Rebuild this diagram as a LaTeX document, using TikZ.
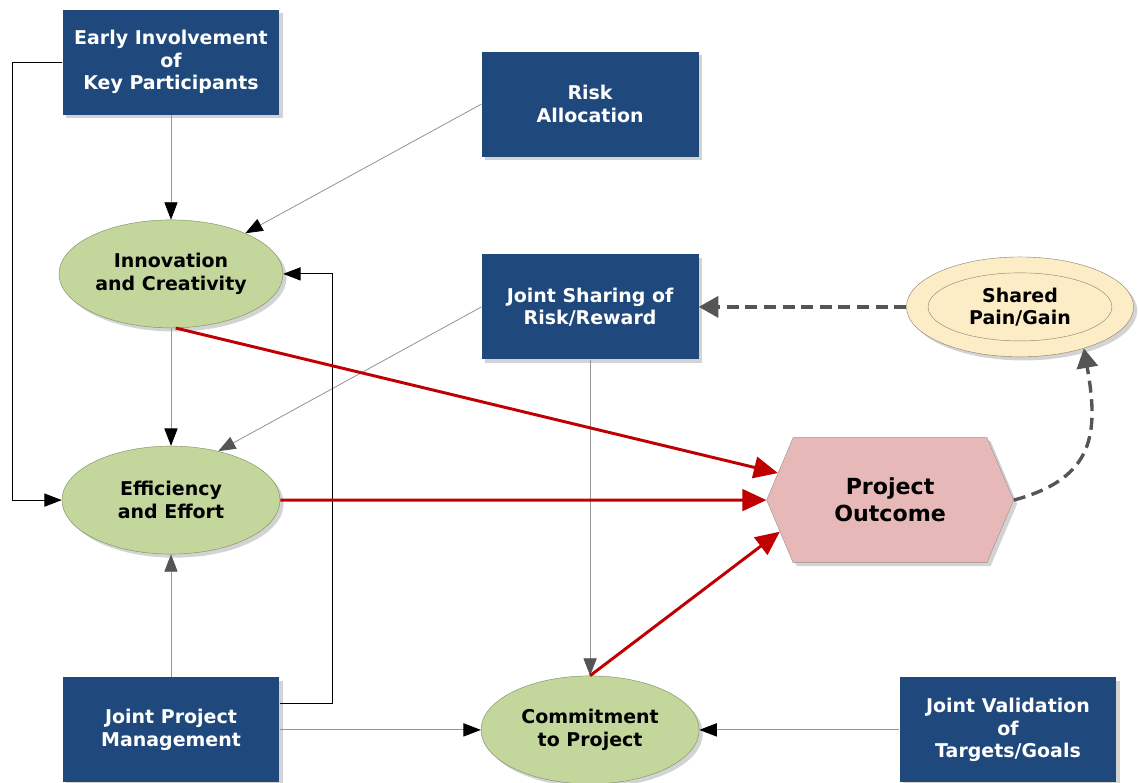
\documentclass[tikz,border=0pt]{standalone}
\usepackage{fontspec}
\setmainfont{DejaVu Sans}
\definecolor{boxblue}{RGB}{31, 73, 125}
\definecolor{ellgreen}{RGB}{195, 214, 155}
\definecolor{ellline}{RGB}{125, 140, 100}
\definecolor{outpink}{RGB}{230, 185, 184}
\definecolor{outline}{RGB}{160, 140, 140}
\definecolor{painyellow}{RGB}{252, 237, 198}
\definecolor{painline}{RGB}{140, 130, 110}
\definecolor{linkgray}{RGB}{150, 150, 150}
\definecolor{dashgray}{RGB}{85, 85, 85}
\definecolor{linkred}{RGB}{192, 0, 0}
\usepackage{tikz}
\usetikzlibrary{shapes, arrows.meta, positioning, shadows}
\newcommand{\diagfont}{\fontsize{18}{21.3}\selectfont\bfseries}

\begin{document}
\begin{tikzpicture}[
  shade/.style={drop shadow={shadow xshift=0.12cm, shadow yshift=-0.12cm, opacity=0.35}},
  bluebox/.style={fill=boxblue, text=white, minimum width=7.23cm, minimum height=3.5cm, align=center, font=\diagfont, shade},
  greenell/.style={ellipse, draw=ellline, fill=ellgreen, minimum width=7.27cm, minimum height=3.6cm, align=center, font=\diagfont, shade},
  glink/.style={draw=linkgray, line width=0.8pt, -{Triangle[length=0.58cm, width=0.44cm, color=black]}},
  klink/.style={draw=black, line width=0.8pt, -{Triangle[length=0.58cm, width=0.44cm]}},
  ggtip/.style={draw=linkgray, line width=0.8pt, -{Triangle[length=0.58cm, width=0.44cm, color=dashgray]}},
  redlink/.style={draw=linkred, line width=2.8pt, -{Triangle[length=0.8cm, width=0.72cm]}},
  dashlink/.style={draw=dashgray, line width=3.2pt, dash pattern=on 0.4cm off 0.22cm, -{Triangle[length=0.65cm, width=0.7cm]}}
]
  \useasboundingbox (0, 0) rectangle (37.967, -26.1);

  % boxes
  \node[bluebox] (early) at (5.70, -2.07) {Early Involvement\\of\\Key Participants};
  \node[bluebox] (risk) at (19.67, -3.47) {Risk\\Allocation};
  \node[bluebox] (share) at (19.67, -10.23) {Joint Sharing of\\Risk/Reward};
  \node[bluebox] (jpm) at (5.70, -24.33) {Joint Project\\Management};
  \node[bluebox] (valid) at (33.60, -24.33) {Joint Validation\\of\\Targets/Goals};

  % ellipses
  \node[greenell] (innov) at (5.70, -9.13) {Innovation\\and Creativity};
  \node[greenell] (effic) at (5.70, -16.67) {Efficiency\\and Effort};
  \node[greenell] (commit) at (19.67, -24.33) {Commitment\\to Project};
  \node[ellipse, draw=painline, fill=painyellow, minimum width=7.57cm, minimum height=3.33cm, align=center, font=\diagfont, shade] (pain) at (34.0, -10.23) {Shared\\Pain/Gain};
  \node[ellipse, draw=painline, minimum width=6.13cm, minimum height=2.27cm] (painin) at (pain) {};

  % outcome
  \node[signal, signal to=west and east, signal pointer angle=134, draw=outline, fill=outpink, minimum width=8.23cm, minimum height=4.17cm, align=center, font=\fontsize{21}{25.6}\selectfont\bfseries, shade] (outcome) at (29.67, -16.67) {Project\\Outcome};

  % thin links
  \draw[glink] (early) -- (innov);
  \draw[glink] (risk.west) -- (innov);
  \draw[glink] (innov) -- (effic);
  \draw[ggtip] (share.west) -- (effic.46);
  \draw[ggtip] (share) -- (commit);
  \draw[ggtip] (jpm) -- (effic);
  \draw[glink] (jpm) -- (commit);
  \draw[glink] (valid) -- (commit);
  \draw[klink] (early.west) -- ++(-1.68, 0) |- (effic.west);
  \draw[klink] ([yshift=0.87cm]jpm.east) -- ++(1.77, 0) |- (innov.east);

  % red links
  \draw[redlink] (innov.-85) -- (outcome);
  \draw[redlink] (effic) -- (outcome);
  \draw[redlink] (commit.north) -- (outcome.196);

  % dashed links
  \draw[dashlink] (outcome.east) to[out=15, in=-80, looseness=1.3] (pain.-33);
  \draw[dashlink] (pain) -- (share);
\end{tikzpicture}
\end{document}
